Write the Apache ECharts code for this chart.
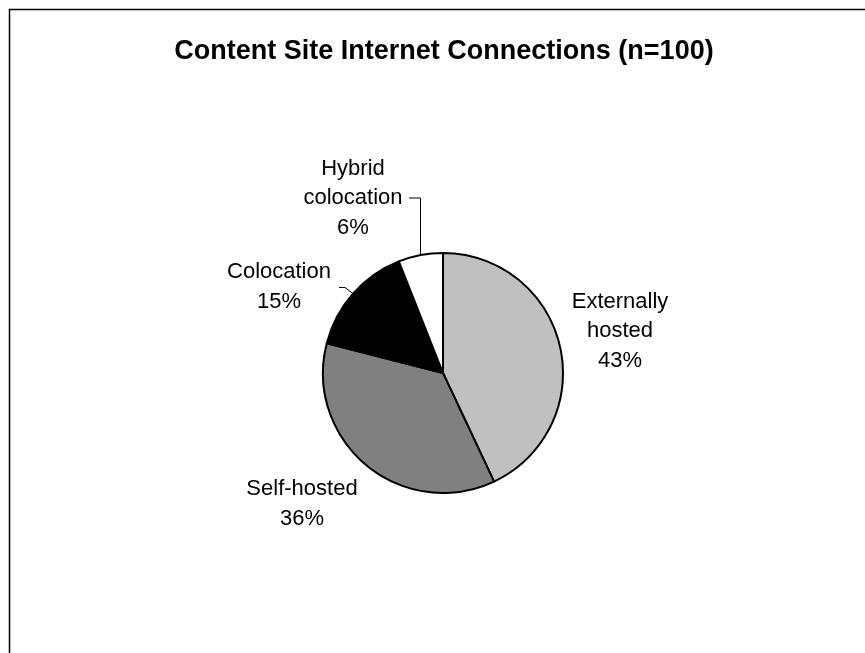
<!DOCTYPE html>
<html>
<head>
<meta charset="utf-8">
<script src="https://cdn.jsdelivr.net/npm/echarts@6/dist/echarts.min.js"></script>
<style>
  html, body { margin: 0; padding: 0; background: #fff; }
  #chart { width: 865px; height: 653px; }
</style>
</head>
<body>
<div id="chart"></div>
<script>
// ---- data ----
var titleText = 'Content Site Internet Connections (n=100)';
var categories = ['Externally\nhosted', 'Self-hosted', 'Colocation', 'Hybrid\ncolocation'];
var values = [43, 36, 15, 6];
var sliceColors = ['#C0C0C0', '#808080', '#000000', '#FFFFFF'];
var showLeader = [false, false, true, true];

// ---- layout (label anchor centres, in px) ----
var labelCentres = [[620, 331], [302, 504], [279, 287], [353, 198]];

var chart = echarts.init(document.getElementById('chart'), null, { renderer: 'canvas' });

var seriesData = categories.map(function (name, i) {
  return {
    name: name,
    value: values[i],
    itemStyle: { color: sliceColors[i] },
    labelLine: { show: showLeader[i] }
  };
});

chart.setOption({
  backgroundColor: '#ffffff',
  animation: false,
  title: {
    text: titleText,
    left: 439,
    textAlign: 'center',
    top: 32,
    textStyle: {
      fontFamily: 'Liberation Sans, Arial, sans-serif',
      fontSize: 27,
      fontWeight: 'bold',
      color: '#000',
      lineHeight: 30
    }
  },
  graphic: [{
    type: 'rect',
    shape: { x: 9.5, y: 9.5, width: 1000, height: 1000 },
    style: { fill: 'none', stroke: '#000', lineWidth: 1.5 },
    silent: true,
    z: -1
  }],
  series: [{
    type: 'pie',
    center: [443, 373],
    radius: [0, 120],
    startAngle: 90,
    clockwise: true,
    percentPrecision: 0,
    avoidLabelOverlap: false,
    itemStyle: { borderColor: '#000', borderWidth: 2 },
    emphasis: { disabled: true },
    label: {
      show: true,
      position: 'outside',
      formatter: '{b}\n{d}%',
      fontFamily: 'Liberation Sans, Arial, sans-serif',
      fontSize: 22,
      lineHeight: 29.5,
      color: '#000',
      align: 'center'
    },
    labelLine: {
      show: true,
      length: 10,
      length2: 10,
      lineStyle: { color: '#000', width: 1 }
    },
    labelLayout: function (params) {
      var i = params.dataIndex;
      var c = labelCentres[i];
      var res = { x: c[0], y: c[1], align: 'center', verticalAlign: 'middle' };
      if (showLeader[i] && params.labelLinePoints) {
        var p0 = params.labelLinePoints[0];
        var endX, elbowX, elbowY;
        if (i === 3) {
          elbowX = p0[0];
          elbowY = c[1];
          endX = c[0] + 56;
        } else {
          elbowX = p0[0] - 8;
          elbowY = c[1] + 0.5;
          endX = c[0] + 60;
        }
        res.labelLinePoints = [[p0[0], p0[1]], [elbowX, elbowY], [endX, elbowY]];
      }
      return res;
    },
    data: seriesData
  }]
});
</script>
</body>
</html>
